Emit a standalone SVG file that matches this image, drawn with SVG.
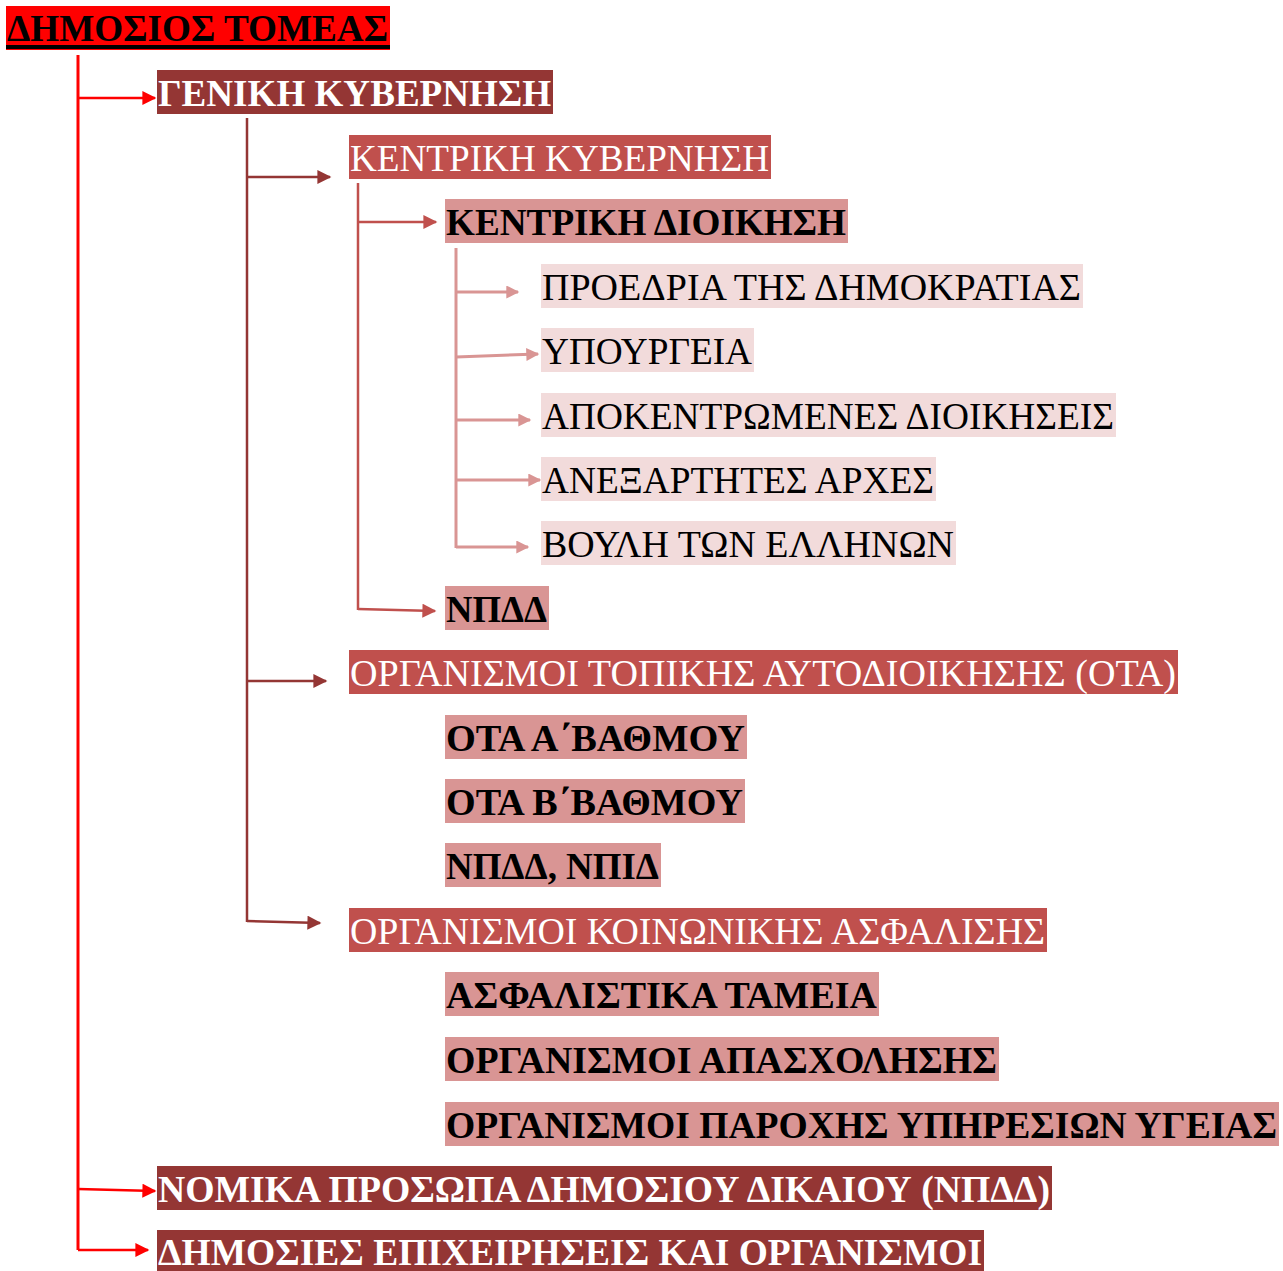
<svg xmlns="http://www.w3.org/2000/svg" width="1283" height="1271" viewBox="0 0 1283 1271">
<defs>
<style>
text{font-family:"Liberation Serif","DejaVu Serif",serif;font-size:37px}
.b{font-weight:bold}
.w{fill:#ffffff}
.k{fill:#000000}
.c1{fill:#943634}
.c2{fill:#C0504D}
.c3{fill:#D99594}
.c4{fill:#F2DBDB}
</style>
<marker id="mRed" viewBox="0 0 10 10" refX="9" refY="5" markerWidth="15" markerHeight="14" markerUnits="userSpaceOnUse" orient="auto"><path d="M0,0 L10,5 L0,10 z" fill="#FF0000"/></marker>
<marker id="mDark" viewBox="0 0 10 10" refX="9" refY="5" markerWidth="16" markerHeight="14" markerUnits="userSpaceOnUse" orient="auto"><path d="M0,0 L10,5 L0,10 z" fill="#943634"/></marker>
<marker id="mMid" viewBox="0 0 10 10" refX="9" refY="5" markerWidth="15" markerHeight="14" markerUnits="userSpaceOnUse" orient="auto"><path d="M0,0 L10,5 L0,10 z" fill="#C0504D"/></marker>
<marker id="mPink" viewBox="0 0 10 10" refX="9" refY="5" markerWidth="15" markerHeight="13" markerUnits="userSpaceOnUse" orient="auto"><path d="M0,0 L10,5 L0,10 z" fill="#D99594"/></marker>
</defs>

<g id="connectors">
<g stroke="#FF0000" stroke-width="3" fill="none">
<path d="M78,55 V1250"/>
<path d="M78,98 H155" marker-end="url(#mRed)" stroke-width="2.5"/>
<path d="M78,1189 L155,1191" marker-end="url(#mRed)" stroke-width="2.5"/>
<path d="M78,1250 H148" marker-end="url(#mRed)" stroke-width="2.5"/>
</g>
<g stroke="#943634" stroke-width="2.5" fill="none">
<path d="M247,118 V922"/>
<path d="M247,177 H330" marker-end="url(#mDark)"/>
<path d="M247,681 H326" marker-end="url(#mDark)"/>
<path d="M247,921 L320,923" marker-end="url(#mDark)"/>
</g>
<g stroke="#C0504D" stroke-width="2.5" fill="none">
<path d="M358,183 V610"/>
<path d="M358,222 H436" marker-end="url(#mMid)"/>
<path d="M358,609 L435,611" marker-end="url(#mMid)"/>
</g>
<g stroke="#D99594" stroke-width="3" fill="none">
<path d="M456,248 V548"/>
<path d="M456,292 H518" marker-end="url(#mPink)"/>
<path d="M456,357 L538,354" marker-end="url(#mPink)"/>
<path d="M456,420 H530" marker-end="url(#mPink)"/>
<path d="M456,480 H540" marker-end="url(#mPink)"/>
<path d="M456,547 H528" marker-end="url(#mPink)"/>
</g>
</g>

<g id="n0"><rect x="6" y="6" width="384" height="44" fill="#FF0000"/><rect x="6" y="45" width="384" height="4" fill="#000"/><text x="7" y="41" class="b k" textLength="381" lengthAdjust="spacingAndGlyphs">ΔΗΜΟΣΙΟΣ ΤΟΜΕΑΣ</text></g>
<g id="n1"><rect x="157" y="70" width="396" height="44" class="c1"/><text x="158" y="106" class="b w" textLength="393" lengthAdjust="spacingAndGlyphs">ΓΕΝΙΚΗ ΚΥΒΕΡΝΗΣΗ</text></g>
<g id="n2"><rect x="349" y="135" width="422" height="44" class="c2"/><text x="350" y="171" class="w" textLength="419" lengthAdjust="spacingAndGlyphs">ΚΕΝΤΡΙΚΗ ΚΥΒΕΡΝΗΣΗ</text></g>
<g id="n3"><rect x="445" y="199" width="403" height="44" class="c3"/><text x="446" y="235" class="b k" textLength="400" lengthAdjust="spacingAndGlyphs">ΚΕΝΤΡΙΚΗ ΔΙΟΙΚΗΣΗ</text></g>
<g id="n4"><rect x="541" y="264" width="542" height="44" class="c4"/><text x="542" y="300" class="k" textLength="539" lengthAdjust="spacingAndGlyphs">ΠΡΟΕΔΡΙΑ ΤΗΣ ΔΗΜΟΚΡΑΤΙΑΣ</text></g>
<g id="n5"><rect x="541" y="328" width="213" height="44" class="c4"/><text x="542" y="364" class="k" textLength="210" lengthAdjust="spacingAndGlyphs">ΥΠΟΥΡΓΕΙΑ</text></g>
<g id="n6"><rect x="541" y="393" width="575" height="44" class="c4"/><text x="542" y="429" class="k" textLength="572" lengthAdjust="spacingAndGlyphs">ΑΠΟΚΕΝΤΡΩΜΕΝΕΣ ΔΙΟΙΚΗΣΕΙΣ</text></g>
<g id="n7"><rect x="541" y="457" width="395" height="44" class="c4"/><text x="542" y="493" class="k" textLength="392" lengthAdjust="spacingAndGlyphs">ΑΝΕΞΑΡΤΗΤΕΣ ΑΡΧΕΣ</text></g>
<g id="n8"><rect x="541" y="521" width="415" height="44" class="c4"/><text x="542" y="557" class="k" textLength="412" lengthAdjust="spacingAndGlyphs">ΒΟΥΛΗ ΤΩΝ ΕΛΛΗΝΩΝ</text></g>
<g id="n9"><rect x="445" y="586" width="104" height="44" class="c3"/><text x="446" y="622" class="b k" textLength="101" lengthAdjust="spacingAndGlyphs">ΝΠΔΔ</text></g>
<g id="n10"><rect x="349" y="650" width="829" height="44" class="c2"/><text x="350" y="686" class="w" textLength="826" lengthAdjust="spacingAndGlyphs">ΟΡΓΑΝΙΣΜΟΙ ΤΟΠΙΚΗΣ ΑΥΤΟΔΙΟΙΚΗΣΗΣ (ΟΤΑ)</text></g>
<g id="n11"><rect x="445" y="715" width="302" height="44" class="c3"/><text x="446" y="751" class="b k" textLength="299" lengthAdjust="spacingAndGlyphs">ΟΤΑ Α΄ΒΑΘΜΟΥ</text></g>
<g id="n12"><rect x="445" y="779" width="300" height="44" class="c3"/><text x="446" y="815" class="b k" textLength="297" lengthAdjust="spacingAndGlyphs">ΟΤΑ Β΄ΒΑΘΜΟΥ</text></g>
<g id="n13"><rect x="445" y="843" width="216" height="44" class="c3"/><text x="446" y="879" class="b k" textLength="213" lengthAdjust="spacingAndGlyphs">ΝΠΔΔ, ΝΠΙΔ</text></g>
<g id="n14"><rect x="349" y="908" width="698" height="44" class="c2"/><text x="350" y="944" class="w" textLength="695" lengthAdjust="spacingAndGlyphs">ΟΡΓΑΝΙΣΜΟΙ ΚΟΙΝΩΝΙΚΗΣ ΑΣΦΑΛΙΣΗΣ</text></g>
<g id="n15"><rect x="445" y="972" width="434" height="44" class="c3"/><text x="446" y="1008" class="b k" textLength="431" lengthAdjust="spacingAndGlyphs">ΑΣΦΑΛΙΣΤΙΚΑ ΤΑΜΕΙΑ</text></g>
<g id="n16"><rect x="445" y="1037" width="554" height="44" class="c3"/><text x="446" y="1073" class="b k" textLength="551" lengthAdjust="spacingAndGlyphs">ΟΡΓΑΝΙΣΜΟΙ ΑΠΑΣΧΟΛΗΣΗΣ</text></g>
<g id="n17"><rect x="445" y="1102" width="834" height="44" class="c3"/><text x="446" y="1138" class="b k" textLength="831" lengthAdjust="spacingAndGlyphs">ΟΡΓΑΝΙΣΜΟΙ ΠΑΡΟΧΗΣ ΥΠΗΡΕΣΙΩΝ ΥΓΕΙΑΣ</text></g>
<g id="n18"><rect x="157" y="1166" width="895" height="44" class="c1"/><text x="158" y="1202" class="b w" textLength="892" lengthAdjust="spacingAndGlyphs">ΝΟΜΙΚΑ ΠΡΟΣΩΠΑ ΔΗΜΟΣΙΟΥ ΔΙΚΑΙΟΥ (ΝΠΔΔ)</text></g>
<g id="n19"><rect x="157" y="1230" width="827" height="41" class="c1"/><text x="158" y="1265" class="b w" textLength="824" lengthAdjust="spacingAndGlyphs">ΔΗΜΟΣΙΕΣ ΕΠΙΧΕΙΡΗΣΕΙΣ ΚΑΙ ΟΡΓΑΝΙΣΜΟΙ</text></g>
</svg>
